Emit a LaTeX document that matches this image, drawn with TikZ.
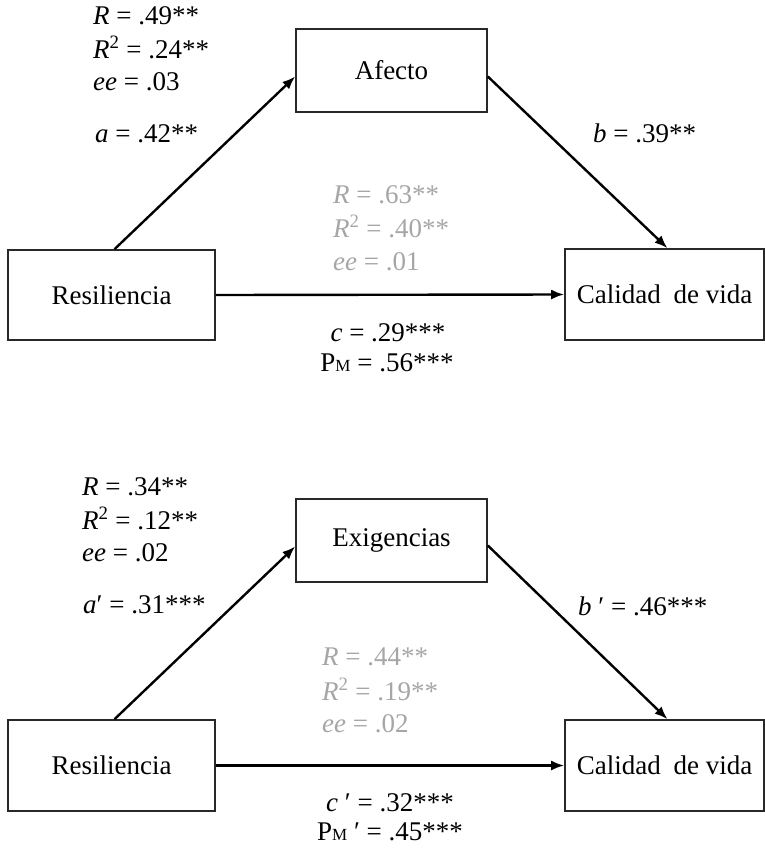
\documentclass[tikz,border=0pt]{standalone}
\usepackage{fontspec}
\setmainfont{Liberation Serif}
\usetikzlibrary{arrows.meta}
\definecolor{lab}{RGB}{166,166,166}
\definecolor{boxline}{RGB}{40,40,40}
\newcommand{\pmsym}{P{\fontsize{17}{17}\selectfont M}}
\begin{document}
\begin{tikzpicture}[x=1pt,y=-1pt,
  box/.style={draw=boxline, line width=1.6pt, inner sep=0pt, font=\fontsize{27}{32}\selectfont},
  arr/.style={line width=2.4pt, -{Latex[length=13pt,width=10pt]}},
  lbl/.style={anchor=base west, inner sep=0pt, font=\fontsize{27}{32}\selectfont},
  glbl/.style={lbl, text=lab},
  clbl/.style={anchor=base, inner sep=0pt, font=\fontsize{27}{32}\selectfont}]
\useasboundingbox (0,0) rectangle (765,849);
% top diagram
\node[box, minimum width=191pt, minimum height=83pt] (af) at (391.5,70.5) {Afecto};
\node[box, minimum width=207pt, minimum height=90pt] (r1) at (111.5,295) {Resiliencia};
\node[box, minimum width=199pt, minimum height=91pt] (c1) at (664.5,294.5) {Calidad\hspace{6pt} de vida};
\draw[arr] ([xshift=3pt]r1.north) -- ([yshift=-6pt]af.west);
\draw[arr] ([yshift=-6pt]af.east) -- ([xshift=3pt]c1.north);
\draw[arr] (r1.east) -- (c1.west);
\node[lbl] (t1) at (93,24) {\textit{R} = .49**};
\node[lbl] (t2) at (93,58) {\textit{R}\textsuperscript{2} = .24**};
\node[lbl] (t3) at (93,90) {\textit{ee} = .03};
\node[lbl] (ta) at (95,142) {\textit{a} = .42**};
\node[lbl] (tb) at (593,142) {\textit{b} = .39**};
\node[glbl] (g1) at (333,203) {\textit{R} = .63**};
\node[glbl] (g2) at (333,237) {\textit{R}\textsuperscript{2} = .40**};
\node[glbl] (g3) at (333,270) {\textit{ee} = .01};
\node[clbl] (tc) at (388,341) {\textit{c} = .29***};
\node[clbl] (tp) at (387,371) {\pmsym{} = .56***};
% bottom diagram
\node[box, minimum width=191pt, minimum height=83pt] (ex) at (391.5,540.5) {Exigencias};
\node[box, minimum width=207pt, minimum height=91pt] (r2) at (111.5,765.5) {Resiliencia};
\node[box, minimum width=199pt, minimum height=91pt] (c2) at (664.5,765.5) {Calidad\hspace{6pt} de vida};
\draw[arr] ([xshift=3pt]r2.north) -- ([yshift=-6pt]ex.west);
\draw[arr] ([yshift=-5pt]ex.east) -- ([xshift=3pt]c2.north);
\draw[arr] (r2.east) -- (c2.west);
\node[lbl] (s1) at (82,495) {\textit{R} = .34**};
\node[lbl] (s2) at (82,529) {\textit{R}\textsuperscript{2} = .12**};
\node[lbl] (s3) at (82,561) {\textit{ee} = .02};
\node[lbl] (sa) at (83,613) {\textit{a}′ = .31***};
\node[lbl] (sb) at (578,615) {\textit{b} ′ = .46***};
\node[glbl] (h1) at (322,665) {\textit{R} = .44**};
\node[glbl] (h2) at (322,700) {\textit{R}\textsuperscript{2} = .19**};
\node[glbl] (h3) at (322,732) {\textit{ee} = .02};
\node[clbl] (sc) at (390,811) {\textit{c} ′ = .32***};
\node[clbl] (sp) at (390,840) {\pmsym{} ′ = .45***};
\end{tikzpicture}
\end{document}
